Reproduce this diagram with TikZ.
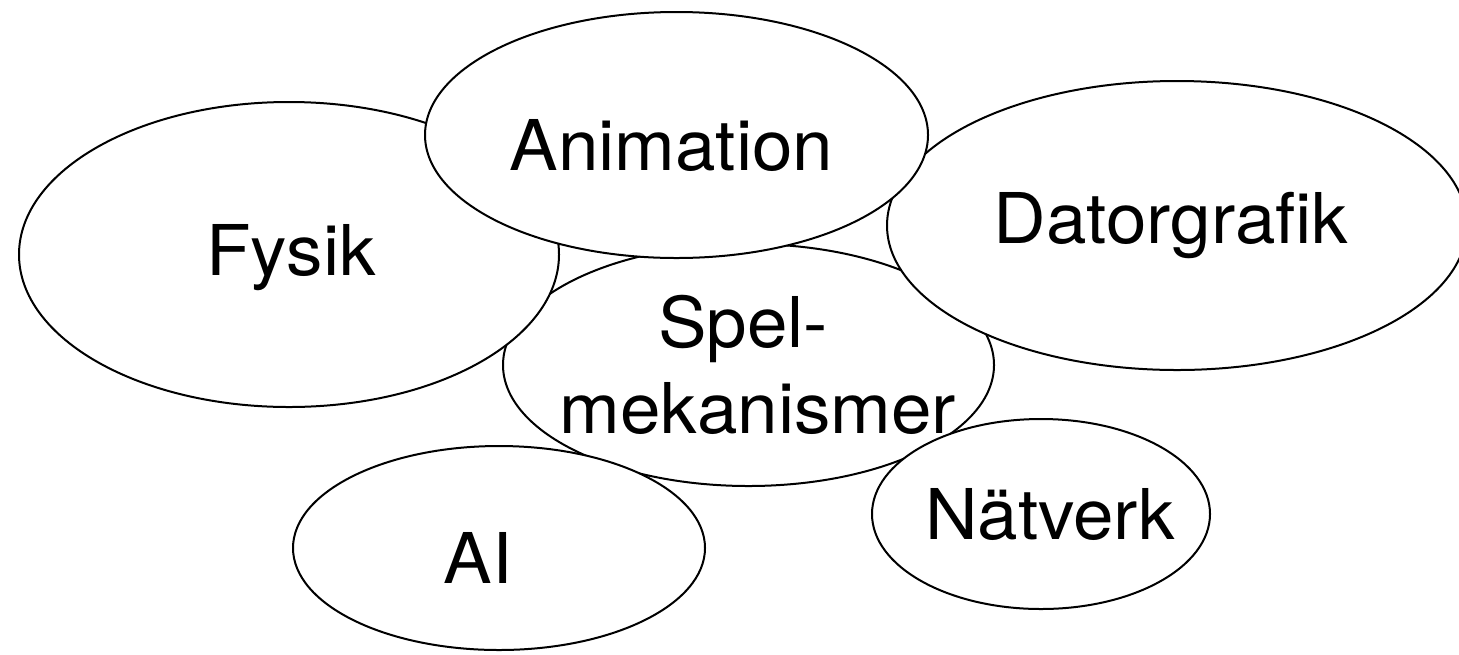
\documentclass[tikz,border=0pt]{standalone}
\usepackage{fontspec}
\setmainfont{TeX Gyre Heros}[FakeStretch=1.04]
\usetikzlibrary{shapes.geometric}
\tikzset{
  blob/.style={ellipse, draw=black, fill=white, line width=1pt, inner sep=0pt, outer sep=0pt},
  lbl/.style={anchor=base, inner sep=0pt, font=\fontsize{35}{42}\selectfont}
}
\begin{document}
\begin{tikzpicture}[x=0.5pt,y=-0.5pt]
\useasboundingbox[fill=white] (0,0) rectangle (1459,654);
% ellipses, back to front (sizes in pt = radius in px)
\node[blob, minimum width=245.5pt, minimum height=121pt] (spel) at (748.5,365) {};
\node[blob, minimum width=270pt, minimum height=152.5pt] (fysik) at (289,254.5) {};
\node[blob, minimum width=290pt, minimum height=144.5pt] (dator) at (1177,225.5) {};
\node[blob, minimum width=251.5pt, minimum height=123pt] (anim) at (676.5,135) {};
\node[blob, minimum width=206pt, minimum height=102pt] (ai) at (499,548) {};
\node[blob, minimum width=169pt, minimum height=95pt] (natv) at (1041,514) {};
% labels
\node[lbl] (tfysik) at (291,275) {Fysik};
\node[lbl] (tanim) at (671.5,170) {Animation};
\node[lbl] (tdator) at (1171,243) {Datorgrafik};
\node[lbl] (tspel1) at (743,347) {Spel-};
\node[lbl] (tspel2) at (758,433) {mekanismer};
\node[lbl] (tai) at (478,583) {AI};
\node[lbl] (tnatv) at (1050,539) {Nätverk};
\end{tikzpicture}
\end{document}
